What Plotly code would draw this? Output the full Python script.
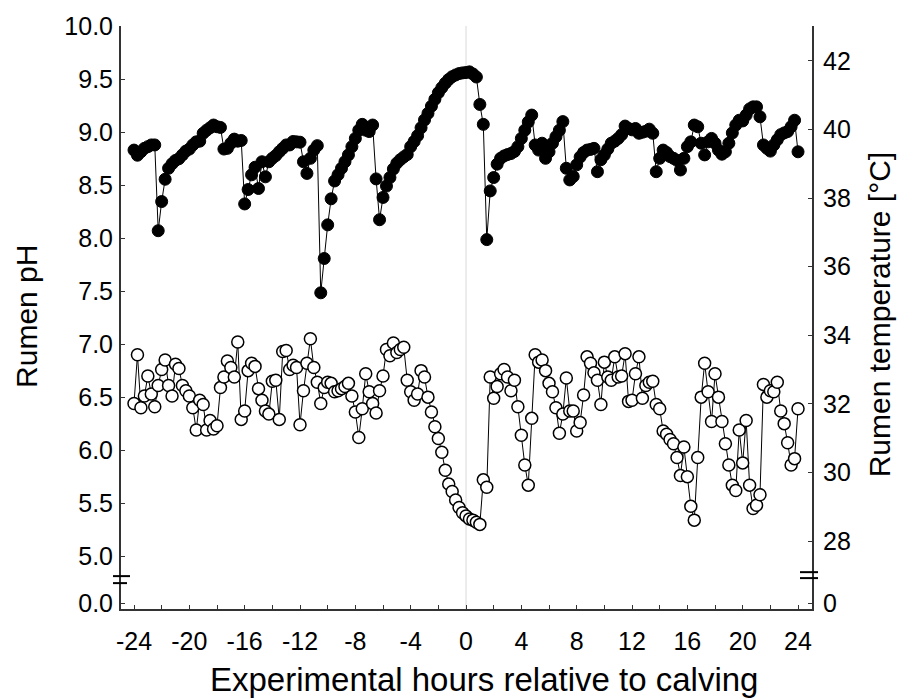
import numpy as np
import plotly.graph_objects as go

# Readings every 15 minutes from 24 h before to 24 h after calving
hours = np.arange(-24, 24.001, 0.25)

# Rumen pH (open circles, left axis)
ph = [
    # -24 h .. -13.5 h
    6.44, 6.90, 6.40, 6.51, 6.70, 6.53, 6.41, 6.61, 6.76, 6.85,
    6.61, 6.51, 6.81, 6.77, 6.61, 6.56, 6.51, 6.40, 6.19, 6.47,
    6.43, 6.19, 6.28, 6.20, 6.23, 6.59, 6.69, 6.84, 6.78, 6.69,
    7.02, 6.29, 6.37, 6.75, 6.82, 6.79, 6.58, 6.47, 6.37, 6.34,
    6.65, 6.66, 6.29,
    # -13.25 h .. -11.25 h
    6.93, 6.94, 6.76, 6.80, 6.78, 6.24, 6.56, 6.82, 7.05,
    # -11 h .. -0.25 h
    6.78, 6.64, 6.44, 6.59, 6.64, 6.63, 6.55, 6.56, 6.58, 6.60,
    6.63, 6.51, 6.36, 6.12, 6.39, 6.72, 6.55, 6.44, 6.35, 6.56,
    6.70, 6.95, 6.89, 7.01, 6.92, 6.95, 6.97, 6.66, 6.55, 6.47,
    6.53, 6.75, 6.69, 6.50, 6.36, 6.22, 6.11, 5.98, 5.81, 5.68,
    5.61, 5.53, 5.46, 5.41,
    # 0 h .. 24 h
    5.38, 5.35, 5.34, 5.32, 5.30, 5.72, 5.65, 6.69, 6.49, 6.60,
    6.72, 6.76, 6.69, 6.56, 6.66, 6.41, 6.14, 5.86, 5.67, 6.30,
    6.90, 6.83, 6.85, 6.75, 6.63, 6.55, 6.40, 6.16, 6.34, 6.68,
    6.37, 6.37, 6.18, 6.26, 6.52, 6.88, 6.82, 6.73, 6.66, 6.43,
    6.83, 6.69, 6.66, 6.88, 6.69, 6.70, 6.91, 6.46, 6.47, 6.72,
    6.88, 6.49, 6.61, 6.64, 6.65, 6.43, 6.39, 6.18, 6.15, 6.10,
    6.06, 5.93, 5.76, 6.03, 5.75, 5.47, 5.34, 5.93, 6.50, 6.82,
    6.55, 6.27, 6.72, 6.50, 6.27, 6.06, 5.86, 5.67, 5.62, 6.19,
    5.88, 6.28, 5.67, 5.45, 5.48, 5.58, 6.62, 6.50, 6.56, 6.55,
    6.64, 6.37, 6.25, 6.07, 5.86, 5.92, 6.39,
]

# Rumen temperature in degC (filled circles, right axis)
temp = [
    # -24 h .. -12.25 h
    39.40, 39.25, 39.35, 39.45, 39.50, 39.55, 39.55, 37.05, 37.90, 38.55,
    38.87, 39.00, 39.10, 39.15, 39.26, 39.37, 39.43, 39.55, 39.64, 39.66,
    39.89, 39.98, 40.05, 40.13, 40.08, 40.06, 39.43, 39.45, 39.60, 39.72,
    39.66, 39.68, 37.83, 38.25, 38.68, 38.90, 38.28, 39.06, 38.62, 39.06,
    39.16, 39.24, 39.35, 39.45, 39.55, 39.55, 39.65, 39.64,
    # -12 h .. -0.25 h
    39.63, 39.06, 38.72, 39.16, 39.40, 39.53, 35.24, 36.24, 37.22, 37.98,
    38.50, 38.68, 38.87, 39.06, 39.26, 39.50, 39.74, 39.98, 40.15, 39.98,
    39.94, 40.13, 38.56, 37.37, 38.02, 38.35, 38.60, 38.85, 39.02, 39.12,
    39.20, 39.27, 39.50, 39.65, 39.82, 40.05, 40.28, 40.47, 40.68, 40.88,
    41.07, 41.22, 41.35, 41.46, 41.54, 41.59, 41.63, 41.65,
    # 0 h .. 24 h
    41.66, 41.68, 41.62, 41.53, 40.73, 40.15, 36.79, 38.21, 38.60, 38.99,
    39.16, 39.23, 39.27, 39.30, 39.36, 39.50, 39.74, 39.98, 40.22, 40.42,
    39.55, 39.40, 39.60, 39.16, 39.35, 39.60, 39.79, 39.98, 40.23, 38.87,
    38.53, 38.63, 38.97, 39.20, 39.33, 39.40, 39.42, 39.45, 38.77, 39.12,
    39.26, 39.43, 39.60, 39.66, 39.74, 39.85, 40.10, 40.03, 39.99, 40.03,
    39.89, 39.92, 39.95, 40.01, 39.89, 38.77, 39.16, 39.40, 39.33, 39.21,
    39.16, 39.10, 38.82, 39.16, 39.50, 39.64, 40.13, 40.08, 39.60, 39.26,
    39.64, 39.74, 39.60, 39.40, 39.28, 39.35, 39.60, 39.90, 40.13, 40.27,
    40.25, 40.42, 40.60, 40.66, 40.66, 40.37, 39.55, 39.45, 39.37, 39.55,
    39.70, 39.85, 39.90, 39.94, 40.08, 40.27, 39.35,
]

# Tick labels
x_ticks = [-24, -20, -16, -12, -8, -4, 0, 4, 8, 12, 16, 20, 24]
ph_ticks = [5.0, 5.5, 6.0, 6.5, 7.0, 7.5, 8.0, 8.5, 9.0, 9.5, 10.0]
temp_ticks = [28, 30, 32, 34, 36, 38, 40, 42]

# Broken axes: the bottom of each y axis stands for zero
PH_RANGE = [4.502, 10.0]
PH_ZERO_POS = 4.558
TEMP_RANGE = [26.023, 43.017]
TEMP_ZERO_POS = 26.198

FONT = "Liberation Sans, Arial, sans-serif"
AXIS_COLOR = "#333333"

fig = go.Figure()

fig.add_trace(go.Scatter(
    x=hours, y=temp, yaxis="y2", mode="lines+markers",
    line=dict(color="black", width=1),
    marker=dict(size=12, color="black", line=dict(color="black", width=1)),
    showlegend=False, name="Rumen temperature",
))
fig.add_trace(go.Scatter(
    x=hours, y=ph, mode="lines+markers",
    line=dict(color="black", width=1),
    marker=dict(size=12, color="white", line=dict(color="black", width=1.5)),
    showlegend=False, name="Rumen pH",
))

common_axis = dict(
    showline=True, linecolor=AXIS_COLOR, linewidth=2,
    showgrid=False, zeroline=False,
    ticks="inside", ticklen=4, tickwidth=1, tickcolor=AXIS_COLOR,
    tickfont=dict(family=FONT, size=25, color="black"),
)

fig.update_layout(
    width=906, height=700,
    margin=dict(l=121, r=94, t=24, b=91),
    paper_bgcolor="white", plot_bgcolor="white",
    font=dict(family=FONT, color="black"),
    xaxis=dict(
        **common_axis,
        range=[-24.94, 25.01],
        tickmode="array", tickvals=x_ticks,
        ticktext=[str(t) for t in x_ticks],
        minor=dict(dtick=2, tick0=0, ticks="inside", ticklen=4,
                   tickwidth=1, tickcolor=AXIS_COLOR, showgrid=False),
        ticklabelstandoff=9,
    ),
    yaxis=dict(
        **common_axis,
        range=PH_RANGE,
        tickmode="array",
        tickvals=[PH_ZERO_POS] + ph_ticks,
        ticktext=["0.0"] + [f"{v:.1f}" for v in ph_ticks],
        ticklabelstandoff=1,
    ),
    yaxis2=dict(
        **common_axis,
        overlaying="y", side="right",
        range=TEMP_RANGE,
        tickmode="array",
        tickvals=[TEMP_ZERO_POS] + temp_ticks,
        ticktext=["0"] + [str(v) for v in temp_ticks],
        ticklabelstandoff=4,
    ),
)

# Calving time marker
fig.add_shape(type="line", xref="x", yref="paper", x0=0, x1=0, y0=0, y1=1,
              line=dict(color="#d9d9d9", width=1), layer="below")

# Axis break marks
for x0, x1, y in [(-0.0116, 0.013, 0.0564), (-0.0116, 0.0087, 0.0444),
                  (0.9826, 1.0087, 0.0632), (0.9826, 1.0087, 0.053)]:
    fig.add_shape(type="line", xref="paper", yref="paper",
                  x0=x0, x1=x1, y0=y, y1=y,
                  line=dict(color="black", width=2))

fig.add_annotation(text="Experimental hours relative to calving",
                   xref="paper", yref="paper", x=0.525, y=-0.121,
                   showarrow=False,
                   font=dict(family=FONT, size=33, color="black"),
                   xanchor="center", yanchor="middle")
fig.add_annotation(text="Rumen pH", xref="paper", yref="paper",
                   x=-0.136, y=0.501, textangle=-90, showarrow=False,
                   font=dict(family=FONT, size=30, color="black"),
                   xanchor="center", yanchor="middle")
fig.add_annotation(text="Rumen temperature [°C]", xref="paper", yref="paper",
                   x=1.098, y=0.505, textangle=-90, showarrow=False,
                   font=dict(family=FONT, size=30, color="black"),
                   xanchor="center", yanchor="middle")

fig.write_html("out.html")
